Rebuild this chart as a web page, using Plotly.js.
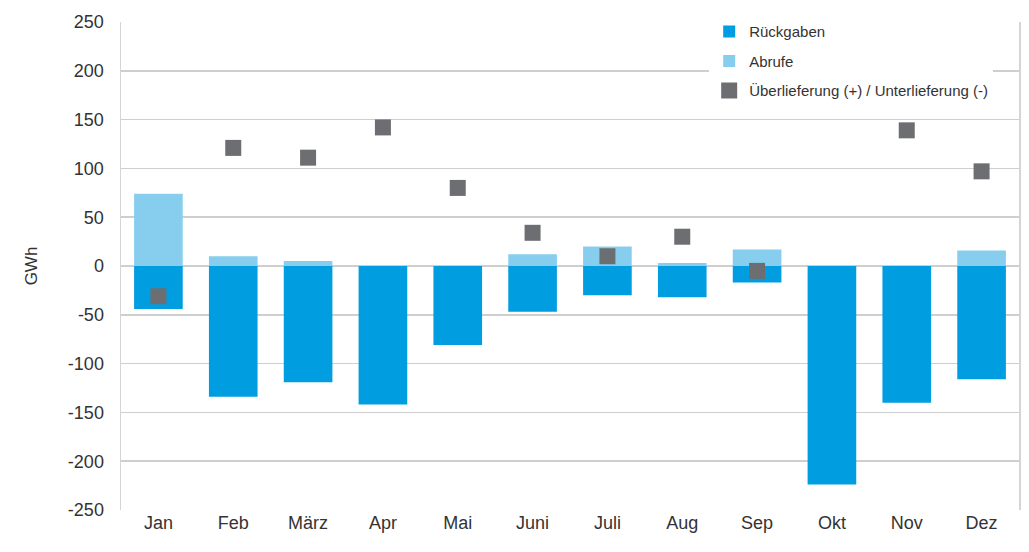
<!DOCTYPE html>
<html><head><meta charset="utf-8">
<script src="https://cdn.plot.ly/plotly-3.0.1.min.js"></script>
<style>html,body{margin:0;padding:0;background:#fff}#chart{width:1029px;height:552px}</style>
</head><body><div id="chart"></div>
<script>
const months = ["Jan","Feb","März","Apr","Mai","Juni","Juli","Aug","Sep","Okt","Nov","Dez"];
const rueckgaben = [-44,-134,-119,-142,-81,-47,-30,-32,-17,-224,-140,-116];
const abrufe = [74,10,5,0,0,12,20,3,17,0,0,16];
const ueberUnter = [-31,121,111,142,80,34,10,30,-5,null,139,97];
const yTicks = [250,200,150,100,50,0,-50,-100,-150,-200,-250];

const font = {family:"Liberation Sans, Arial, sans-serif", color:"#333"};
const data = [
  {type:"bar", x:months, y:rueckgaben, name:"Rückgaben", legendgroup:"a",
   marker:{color:"#009EE0", line:{width:0}}, width:0.65},
  {type:"bar", x:months, y:abrufe, name:"Abrufe", legendgroup:"b",
   marker:{color:"#87CEEE", line:{width:0}}, width:0.65},
  {type:"scatter", mode:"markers", x:months, y:ueberUnter, name:"Überlieferung (+) / Unterlieferung (-)", legendgroup:"c",
   marker:{symbol:"square", size:16, color:"#6D6E71"}}
];
const layout = {
  width:1029, height:552,
  margin:{l:121, r:10, t:22, b:42},
  barmode:"relative",
  paper_bgcolor:"#fff", plot_bgcolor:"#fff",
  font:Object.assign({size:18}, font),
  xaxis:{type:"category", range:[-0.5,11.5], autorange:false, showgrid:false, showline:false, ticks:"",
    tickfont:{size:18, family:font.family, color:"#333"}},
  yaxis:{range:[-250,250], autorange:false, tickvals:yTicks, ticktext:yTicks.map(String), showgrid:true, gridcolor:"#cfcfcf", gridwidth:1.5,
    zeroline:true, zerolinecolor:"#cfcfcf", zerolinewidth:1.5,
    showline:true, mirror:true, linecolor:"#d5d5d5", linewidth:1.5, ticks:"", ticklen:0, ticklabelstandoff:12,
    tickfont:{size:18, family:font.family, color:"#333"},
    title:{text:"GWh", standoff:26, font:{size:17, family:font.family, color:"#333"}}},
  showlegend:true,
  legend:{x:0.655, y:1.014, xanchor:"left", yanchor:"top", bgcolor:"#fff", borderwidth:0,
    traceorder:"grouped", tracegroupgap:7, font:{size:15, family:font.family, color:"#333"}}
};
Plotly.newPlot("chart", data, layout, {displayModeBar:false, staticPlot:true});
</script></body></html>
